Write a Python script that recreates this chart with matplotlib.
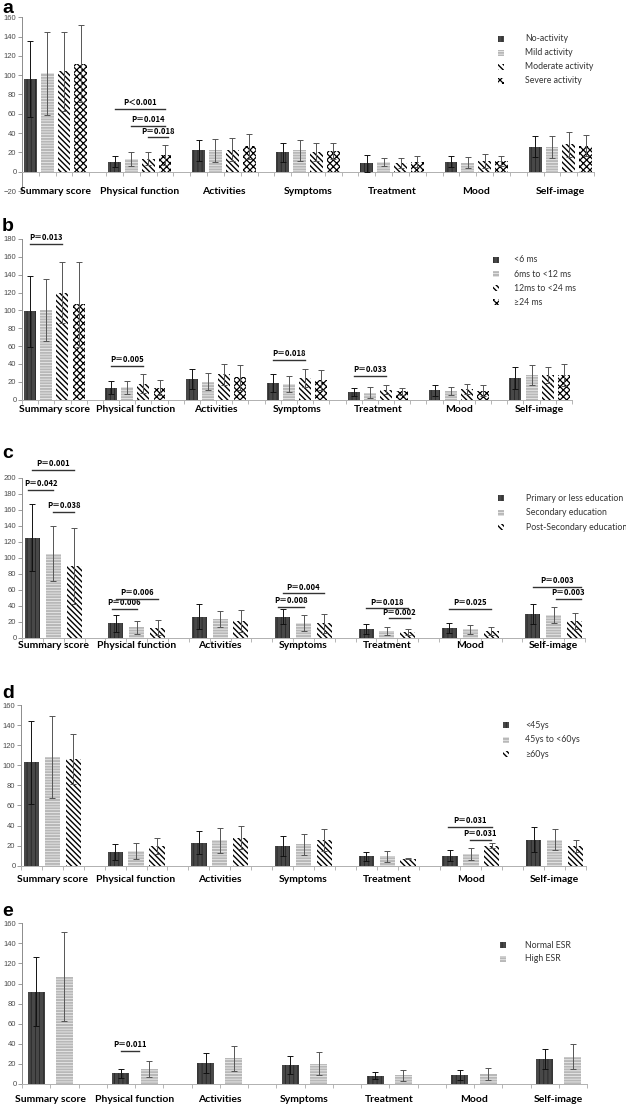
import matplotlib
matplotlib.use('Agg')
import matplotlib.pyplot as plt
from matplotlib.patches import Rectangle

W, H = 626, 1106
plt.rcParams['font.family'] = ['Liberation Sans', 'DejaVu Sans']

categories = ['Summary score', 'Physical function', 'Activities', 'Symptoms',
              'Treatment', 'Mood', 'Self-image']

# a: disease activity
a_legend = ['No-activity', 'Mild activity', 'Moderate activity', 'Severe activity']
a_mean = [[96, 10.5, 22, 20, 8.5, 10.5, 26],
          [102, 13, 22, 22, 10, 9.5, 25.5],
          [104, 13.5, 23, 20.5, 9, 11, 28.5],
          [112, 17.5, 26.5, 21.5, 10.5, 11, 27]]
a_sd = [[39, 5.5, 11, 10, 8.5, 5.5, 10.5],
        [43, 7.5, 12, 11, 4, 6, 11.5],
        [41, 7, 11.5, 9.5, 5, 7, 13],
        [40, 10.5, 13, 8.5, 5.5, 5, 11]]
# (category, from, to, y, text)
a_pvals = [(1, 0.5, 3.5, 65, 'P＜0.001'),
           (1, 1.5, 3.5, 47.7, 'P＝0.014'),
           (1, 2.5, 3.7, 35.6, 'P＝0.018')]

# b: disease duration
b_legend = ['<6 ms', '6ms to <12 ms', '12ms to <24 ms', '≥24 ms']
b_mean = [[99, 13.5, 23, 19, 9, 10.5, 24.5],
          [100.5, 14, 20, 17.5, 8, 10, 27.5],
          [120, 18, 28.5, 24, 11, 12, 27.5],
          [107, 13.5, 25, 22, 9.5, 10, 27.5]]
b_sd = [[40, 7.5, 11.5, 10, 4.5, 6, 12.5],
        [35, 7.5, 9.5, 8.5, 6, 4.5, 11],
        [34.5, 10.5, 11.5, 10, 5, 5.5, 9],
        [47.5, 8.5, 14, 11.5, 4, 6, 12]]
b_pvals = [(0, 0.5, 2.5, 174.4, 'P＝0.013'),
           (1, 0.5, 2.5, 38, 'P＝0.005'),
           (3, 0.5, 2.5, 44.8, 'P＝0.018'),
           (4, 0.5, 2.5, 26.5, 'P＝0.033')]

# c: education
c_legend = ['Primary or less education', 'Secondary education', 'Post-Secondary education']
c_mean = [[125, 18, 26.5, 26.5, 11, 12.5, 29.5],
          [105, 13, 23.5, 19, 8.5, 10.5, 28],
          [89.5, 12.5, 21, 18, 7, 9, 21]]
c_sd = [[42, 11, 16, 9.5, 6.5, 6, 12.5],
        [34, 8, 9.5, 10, 5, 5.5, 10],
        [47, 9.5, 13.5, 12, 3.5, 5, 9.5]]
c_pvals = [(0, 0.5, 2.5, 209.6, 'P＝0.001'),
           (0, 0.3, 1.5, 185, 'P＝0.042'),
           (0, 1.5, 2.5, 157.5, 'P＝0.038'),
           (1, 0.5, 2.5, 48.75, 'P＝0.006'),
           (1, 0.3, 1.5, 35.8, 'P＝0.006'),
           (3, 0.5, 2.5, 55.4, 'P＝0.004'),
           (3, 0.3, 1.5, 38.3, 'P＝0.008'),
           (4, 0.5, 2.5, 36.7, 'P＝0.018'),
           (4, 1.6, 2.6, 24.2, 'P＝0.002'),
           (5, 0.5, 2.5, 35.8, 'P＝0.025'),
           (6, 0.5, 2.8, 63.75, 'P＝0.003'),
           (6, 1.6, 2.8, 48.3, 'P＝0.003')]

# d: age
d_legend = ['<45ys', '45ys to <60ys', '≥60ys']
d_mean = [[103, 14, 23, 20, 9.5, 10, 26],
          [108.5, 14.5, 25.5, 21.5, 9.5, 11.5, 26],
          [106, 19.5, 28, 25.5, 7, 20, 20]]
d_sd = [[41.5, 8, 11.5, 10, 4.5, 5.5, 12.5],
        [41, 8, 12.5, 10.5, 5.5, 6, 10.5],
        [25, 8, 11.5, 11, 0.5, 2.5, 6]]
d_pvals = [(5, 0.4, 2.5, 38.8, 'P＝0.031'),
           (5, 1.45, 2.45, 25.6, 'P＝0.031')]

# e: ESR
e_legend = ['Normal ESR', 'High ESR']
e_mean = [[92, 10.5, 21, 18.5, 8, 9, 24.5],
          [107, 15, 25.5, 20, 8.5, 10, 27]]
e_sd = [[34, 4.5, 10, 9, 3.5, 5, 10],
        [44, 8, 12.5, 11.5, 5.5, 6, 12.5]]
e_pvals = [(1, 0.5, 1.15, 33.2, 'P＝0.011')]

# face colour, hatch colour, hatch, hatch line width
styles = [
    ('#484848', '#262626', '||||', 0.6),
    ('#b8b8b8', '#f4f4f4', '------', 0.5),
    ('#ffffff', '#000000', '\\\\\\\\\\\\', 1.0),
    ('#ffffff', '#000000', 'xxxxx', 0.9),
]

# letter, means, sds, legend, pvals, ylim, box (l, t, r, b px), label offset px,
# legend (square x, text x, first y, step), bar width, letter baseline px
panels = [
    ('a', a_mean, a_sd, a_legend, a_pvals, (-20, 160), (22, 17.3, 594, 191), 0,
     (501, 525, 38.7, 14), 0.76, 13),
    ('b', b_mean, b_sd, b_legend, b_pvals, (0, 180), (22, 239, 572, 399.7), 10,
     (496, 514, 260, 14.1), 0.74, 231),
    ('c', c_mean, c_sd, c_legend, c_pvals, (0, 200), (22, 477.7, 585, 637.7), 8,
     (501, 525.7, 498.3, 14.5), 0.72, 458),
    ('d', d_mean, d_sd, d_legend, d_pvals, (0, 160), (21, 705, 586, 865.7), 14,
     (506, 525, 725.3, 14.5), 0.73, 698),
    ('e', e_mean, e_sd, e_legend, e_pvals, (0, 160), (22, 923.3, 587, 1084), 15,
     (502.7, 525, 945, 13.7), 0.6, 916),
]


def fx(px):
    return px / W


def fy(py):
    return 1 - py / H


def hatch_lw(patch, lw):
    if hasattr(patch, 'set_hatch_linewidth'):
        patch.set_hatch_linewidth(lw)


fig = plt.figure(figsize=(W / 100, H / 100), dpi=100)

for letter, means, sds, legend, pvals, ylim, box, lab_off, leg, bw, base in panels:
    l, t, r, b = box
    ax = fig.add_axes([fx(l), fy(b), (r - l) / W, (b - t) / H])
    n = len(means)
    step = n + 1
    xmax = 7 * step - 1
    for j in range(n):
        face, hc, hatch, hlw = styles[j]
        xs = [i * step + j + 0.5 for i in range(7)]
        with plt.rc_context({'hatch.linewidth': hlw}):
            bars = ax.bar(xs, means[j], width=bw, linewidth=0, zorder=2,
                          color=face, edgecolor=hc, hatch=hatch)
        for p in bars:
            hatch_lw(p, hlw)
        ecol = '#111111' if j == 0 else '#555555'
        ax.errorbar(xs, means[j], yerr=sds[j], fmt='none', ecolor=ecol,
                    elinewidth=0.7, capsize=2, capthick=0.7, zorder=3)
    ax.set_xlim(0, xmax)
    ax.set_ylim(*ylim)
    ax.set_yticks(range(ylim[0], ylim[1] + 1, 20))
    ax.set_xticks([])
    ax.set_xticks(range(0, xmax + 1), minor=True)
    ax.tick_params(axis='x', which='minor', length=3, width=0.6, color='#aaaaaa')
    ax.tick_params(axis='y', length=3, width=0.6, color='#8c8c8c', pad=1,
                   labelsize=5.5, labelcolor='#4a4a4a')
    for s in ('top', 'right'):
        ax.spines[s].set_visible(False)
    ax.spines['left'].set_color('#8c8c8c')
    ax.spines['left'].set_linewidth(0.7)
    ax.spines['bottom'].set_color('#b0b0b0')
    ax.spines['bottom'].set_linewidth(0.7)
    if ylim[0] < 0:
        ax.spines['bottom'].set_position(('data', 0))
    ax.patch.set_alpha(0)

    for i, cat in enumerate(categories):
        ax.annotate(cat, xy=(i * step + n / 2, 0), xycoords=('data', 'axes fraction'),
                    xytext=(0, -lab_off * 0.72), textcoords='offset points',
                    ha='center', va='center', fontsize=7.5, fontweight='bold',
                    family=['Lato', 'DejaVu Sans'], annotation_clip=False)

    for ci, x0, x1, y, txt in pvals:
        gx = ci * step
        ax.plot([gx + x0, gx + x1], [y, y], color='#333333', lw=1.0,
                clip_on=False, zorder=4)
        ax.annotate(txt, xy=(gx + (x0 + x1) / 2, y), xytext=(0, 1.2),
                    textcoords='offset points', ha='center', va='bottom',
                    fontsize=5.5, fontweight='bold',
                    family=['Noto Sans CJK SC', 'DejaVu Sans'],
                    annotation_clip=False)

    sq_x, tx, y0, dy = leg
    for k, name in enumerate(legend):
        yk = y0 + k * dy
        face, hc, hatch, hlw = styles[k]
        with plt.rc_context({'hatch.linewidth': hlw}):
            sq = Rectangle((fx(sq_x - 3), fy(yk + 3)), 6 / W, 6 / H,
                           transform=fig.transFigure, facecolor=face,
                           edgecolor=hc, hatch=hatch, linewidth=0)
        hatch_lw(sq, hlw)
        fig.add_artist(sq)
        fig.text(fx(tx), fy(yk), name, ha='left', va='center', fontsize=6.3,
                 color='#333333', family=['Lato', 'DejaVu Sans'])

    fig.text(fx(2), fy(base), letter, fontsize=14, fontweight='bold',
             va='baseline', ha='left')

fig.savefig('out.png', dpi=100)
